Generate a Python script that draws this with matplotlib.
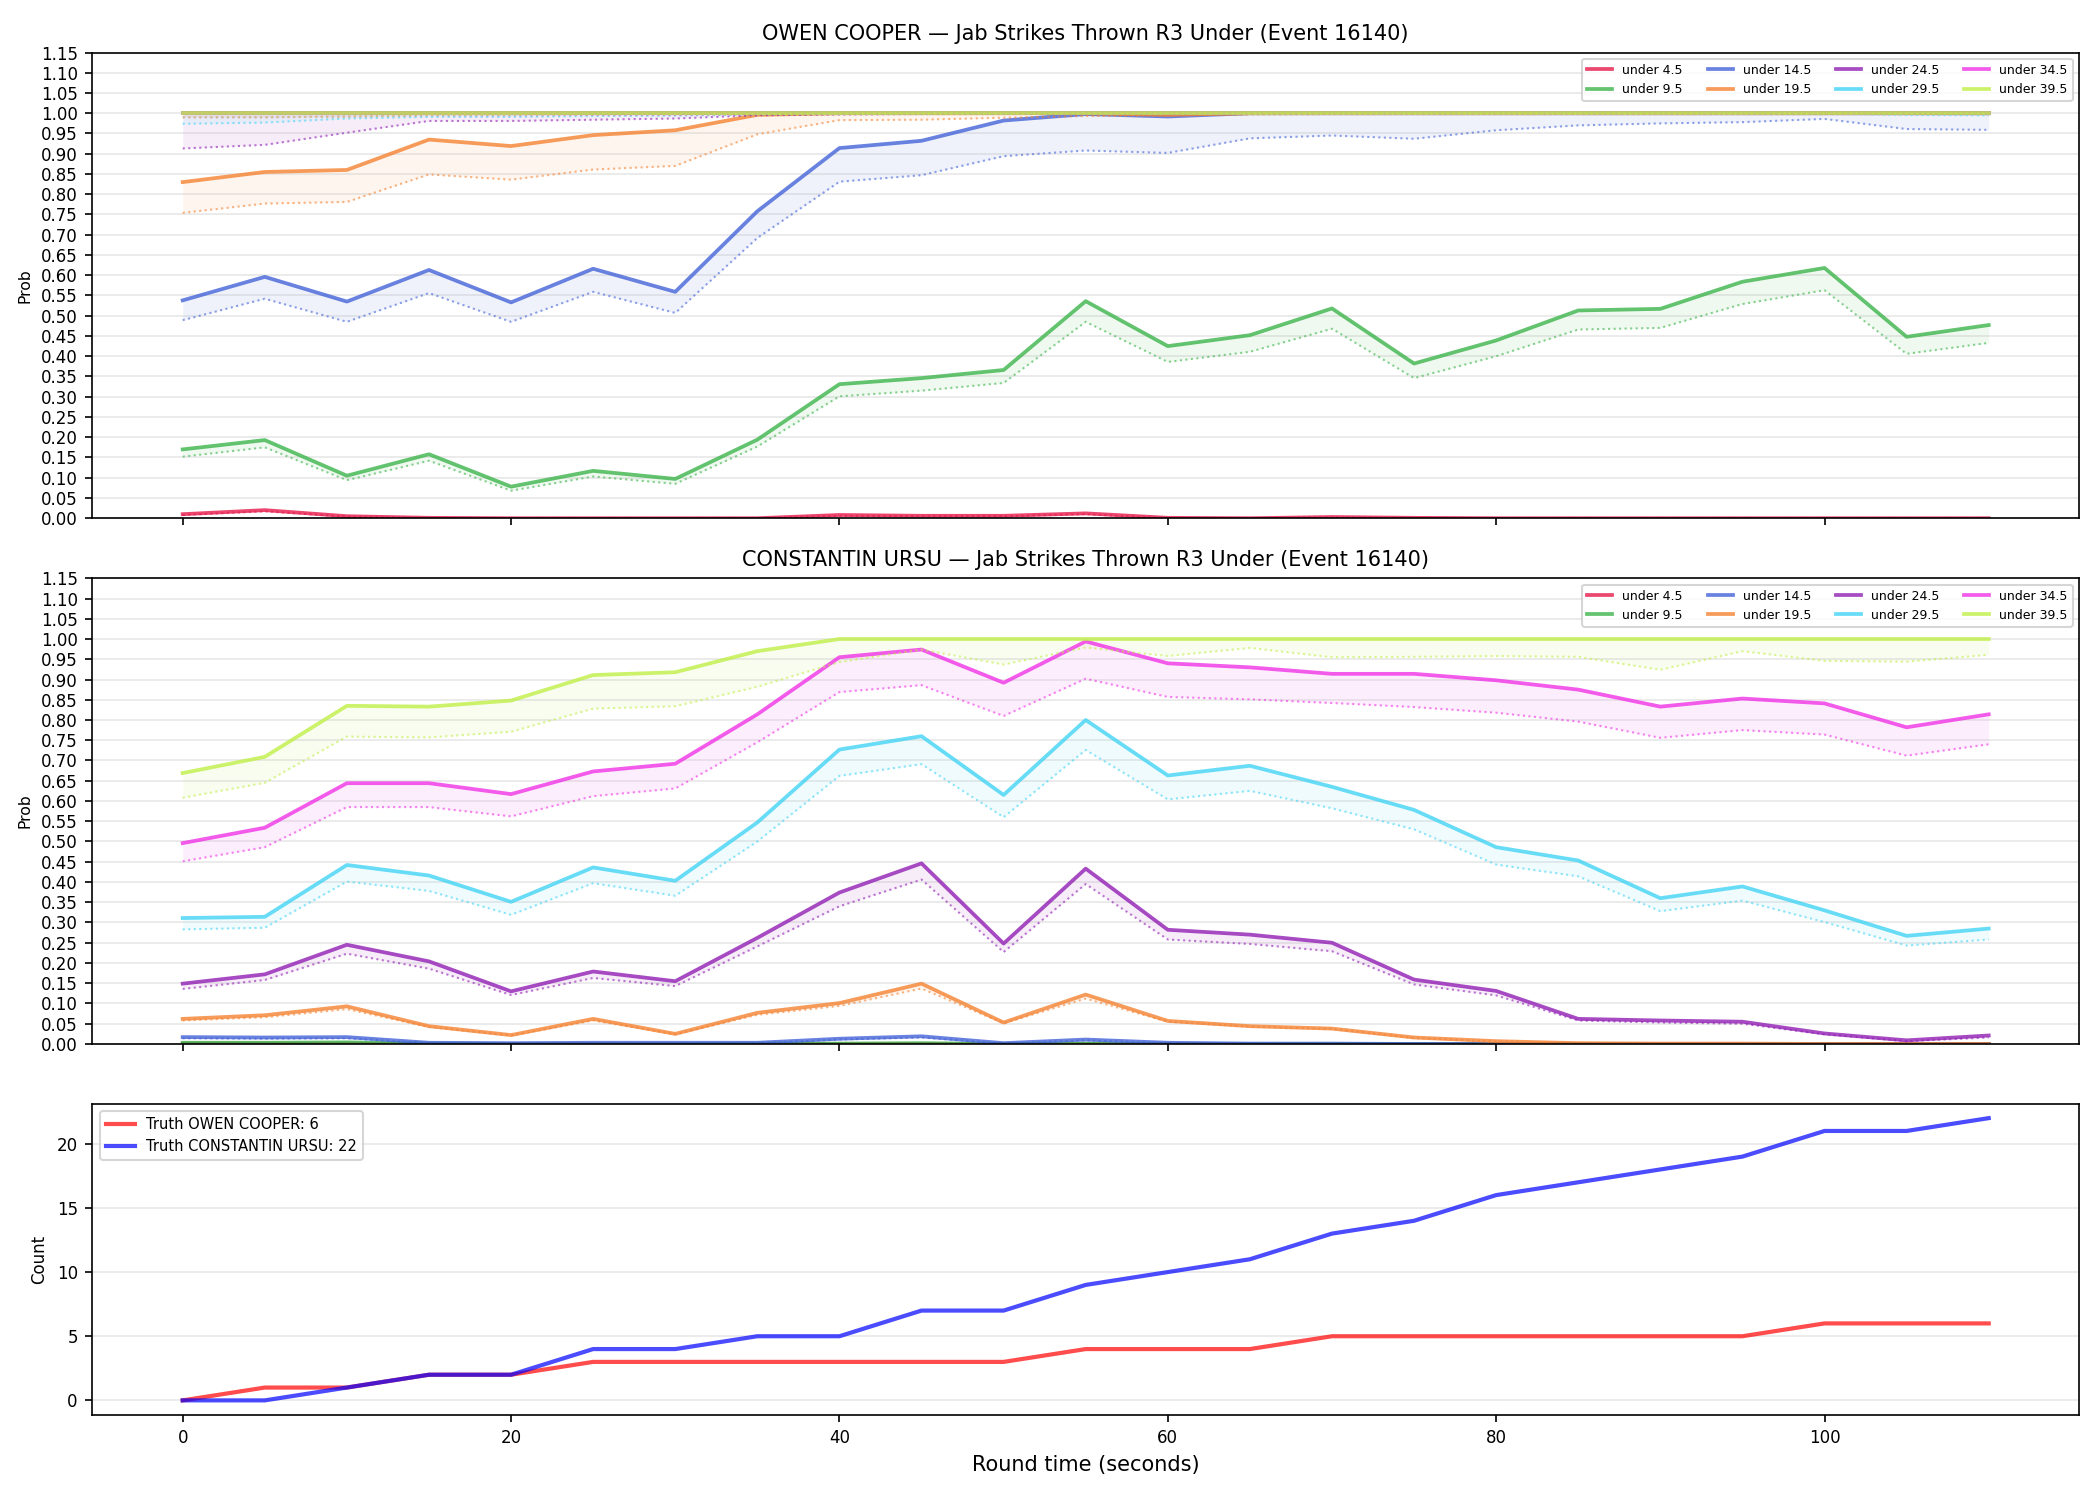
#!/usr/bin/env python3

import matplotlib
matplotlib.use('Agg')
import matplotlib.pyplot as plt
import numpy as np

times = [0, 5, 10, 15, 20, 25, 30, 35, 40, 45, 50, 55,
         60, 65, 70, 75, 80, 85, 90, 95, 100, 105, 110]

lines = ['under 4.5', 'under 9.5', 'under 14.5', 'under 19.5',
         'under 24.5', 'under 29.5', 'under 34.5', 'under 39.5']
colors = ['#e6194b', '#3cb44b', '#4363d8', '#f58231',
          '#911eb4', '#42d4f4', '#f032e6', '#bfef45']

# OWEN COOPER: solid = prob, dotted = lower band
cooper_prob = [
    [0.010, 0.020, 0.005, 0.001, 0.000, 0.000, 0.000, 0.000, 0.008, 0.006, 0.006, 0.012,
     0.001, 0.000, 0.003, 0.001, 0.000, 0.000, 0.000, 0.000, 0.000, 0.000, 0.000],
    [0.170, 0.193, 0.105, 0.158, 0.078, 0.117, 0.097, 0.194, 0.331, 0.346, 0.366, 0.536,
     0.425, 0.452, 0.518, 0.382, 0.439, 0.513, 0.517, 0.584, 0.618, 0.448, 0.477],
    [0.538, 0.596, 0.535, 0.613, 0.533, 0.616, 0.559, 0.758, 0.914, 0.932, 0.982, 0.998,
     0.992, 1.000, 1.000, 1.000, 1.000, 1.000, 1.000, 1.000, 1.000, 1.000, 1.000],
    [0.830, 0.855, 0.860, 0.935, 0.919, 0.946, 0.958, 0.996, 1.000, 1.000, 1.000, 1.000,
     0.996, 1.000, 1.000, 1.000, 1.000, 1.000, 1.000, 1.000, 1.000, 1.000, 1.000],
    [1.000, 1.000, 1.000, 1.000, 1.000, 1.000, 1.000, 1.000, 1.000, 1.000, 1.000, 1.000,
     1.000, 1.000, 1.000, 1.000, 1.000, 1.000, 1.000, 1.000, 1.000, 1.000, 1.000],
    [1.000, 1.000, 1.000, 1.000, 1.000, 1.000, 1.000, 1.000, 1.000, 1.000, 1.000, 1.000,
     1.000, 1.000, 1.000, 1.000, 1.000, 1.000, 1.000, 1.000, 1.000, 1.000, 1.000],
    [1.000, 1.000, 1.000, 1.000, 1.000, 1.000, 1.000, 1.000, 1.000, 1.000, 1.000, 1.000,
     1.000, 1.000, 1.000, 1.000, 1.000, 1.000, 1.000, 1.000, 1.000, 1.000, 1.000],
    [1.000, 1.000, 1.000, 1.000, 1.000, 1.000, 1.000, 1.000, 1.000, 1.000, 1.000, 1.000,
     1.000, 1.000, 1.000, 1.000, 1.000, 1.000, 1.000, 1.000, 1.000, 1.000, 1.000],
]
cooper_low = [
    [0.008, 0.017, 0.004, 0.000, 0.000, 0.000, 0.000, 0.000, 0.006, 0.005, 0.005, 0.010,
     0.000, 0.000, 0.002, 0.000, 0.000, 0.000, 0.000, 0.000, 0.000, 0.000, 0.000],
    [0.152, 0.175, 0.094, 0.142, 0.068, 0.103, 0.085, 0.177, 0.301, 0.315, 0.334, 0.485,
     0.386, 0.411, 0.468, 0.346, 0.400, 0.466, 0.470, 0.529, 0.563, 0.406, 0.433],
    [0.489, 0.542, 0.485, 0.556, 0.485, 0.559, 0.507, 0.692, 0.831, 0.847, 0.894, 0.908,
     0.902, 0.938, 0.945, 0.937, 0.958, 0.970, 0.975, 0.978, 0.986, 0.961, 0.959],
    [0.754, 0.777, 0.781, 0.849, 0.836, 0.861, 0.870, 0.948, 0.983, 0.984, 0.989, 0.993,
     0.995, 0.997, 0.998, 0.998, 0.998, 0.998, 0.998, 0.998, 0.998, 0.998, 0.998],
    [0.913, 0.922, 0.952, 0.981, 0.981, 0.984, 0.987, 0.995, 0.997, 0.998, 0.998, 0.999,
     0.999, 0.999, 0.999, 0.999, 0.999, 0.999, 0.999, 0.999, 0.999, 0.999, 0.999],
    [0.974, 0.977, 0.987, 0.991, 0.991, 0.993, 0.994, 0.997, 0.998, 0.998, 0.999, 0.999,
     0.999, 0.999, 0.999, 0.999, 0.999, 0.999, 0.999, 0.999, 0.999, 0.996, 0.995],
    [0.990, 0.990, 0.992, 0.995, 0.995, 0.996, 0.996, 0.998, 0.999, 0.999, 0.999, 0.999,
     0.999, 0.999, 0.999, 0.999, 0.999, 0.999, 0.999, 0.999, 0.999, 0.999, 0.999],
    [0.990, 0.990, 0.992, 0.995, 0.996, 0.997, 0.997, 0.998, 0.999, 0.999, 0.999, 0.999,
     0.999, 0.999, 0.999, 0.999, 0.999, 0.999, 0.999, 0.999, 0.999, 0.999, 0.999],
]

# CONSTANTIN URSU
ursu_prob = [
    [0.001, 0.001, 0.001, 0.000, 0.000, 0.000, 0.000, 0.000, 0.000, 0.000, 0.000, 0.000,
     0.000, 0.000, 0.000, 0.000, 0.000, 0.000, 0.000, 0.000, 0.000, 0.000, 0.000],
    [0.003, 0.003, 0.004, 0.001, 0.000, 0.000, 0.000, 0.001, 0.001, 0.002, 0.000, 0.001,
     0.000, 0.000, 0.000, 0.000, 0.000, 0.000, 0.000, 0.000, 0.000, 0.000, 0.000],
    [0.017, 0.016, 0.017, 0.003, 0.002, 0.003, 0.003, 0.003, 0.013, 0.019, 0.002, 0.011,
     0.003, 0.001, 0.001, 0.000, 0.000, 0.000, 0.000, 0.000, 0.000, 0.000, 0.000],
    [0.062, 0.071, 0.093, 0.044, 0.022, 0.062, 0.025, 0.077, 0.101, 0.149, 0.053, 0.122,
     0.057, 0.044, 0.038, 0.016, 0.007, 0.002, 0.001, 0.001, 0.000, 0.000, 0.000],
    [0.149, 0.172, 0.245, 0.204, 0.130, 0.179, 0.155, 0.262, 0.374, 0.446, 0.248, 0.433,
     0.282, 0.270, 0.250, 0.159, 0.131, 0.062, 0.058, 0.055, 0.026, 0.009, 0.021],
    [0.311, 0.314, 0.442, 0.416, 0.351, 0.436, 0.403, 0.547, 0.727, 0.760, 0.615, 0.800,
     0.663, 0.687, 0.635, 0.578, 0.486, 0.453, 0.360, 0.389, 0.330, 0.267, 0.285],
    [0.496, 0.534, 0.644, 0.644, 0.617, 0.673, 0.692, 0.814, 0.955, 0.974, 0.892, 0.994,
     0.940, 0.930, 0.914, 0.914, 0.898, 0.875, 0.833, 0.853, 0.841, 0.782, 0.814],
    [0.669, 0.709, 0.835, 0.833, 0.848, 0.911, 0.918, 0.970, 1.000, 1.000, 1.000, 1.000,
     1.000, 1.000, 1.000, 1.000, 1.000, 1.000, 1.000, 1.000, 1.000, 1.000, 1.000],
]
ursu_low = [
    [0.000, 0.000, 0.000, 0.000, 0.000, 0.000, 0.000, 0.000, 0.000, 0.000, 0.000, 0.000,
     0.000, 0.000, 0.000, 0.000, 0.000, 0.000, 0.000, 0.000, 0.000, 0.000, 0.000],
    [0.002, 0.002, 0.003, 0.001, 0.000, 0.000, 0.000, 0.000, 0.001, 0.001, 0.000, 0.001,
     0.000, 0.000, 0.000, 0.000, 0.000, 0.000, 0.000, 0.000, 0.000, 0.000, 0.000],
    [0.014, 0.013, 0.014, 0.002, 0.001, 0.002, 0.002, 0.002, 0.011, 0.016, 0.001, 0.009,
     0.002, 0.001, 0.000, 0.000, 0.000, 0.000, 0.000, 0.000, 0.000, 0.000, 0.000],
    [0.058, 0.066, 0.086, 0.042, 0.021, 0.058, 0.024, 0.072, 0.094, 0.137, 0.051, 0.112,
     0.055, 0.043, 0.037, 0.015, 0.006, 0.002, 0.001, 0.001, 0.000, 0.000, 0.000],
    [0.136, 0.158, 0.223, 0.186, 0.121, 0.163, 0.143, 0.241, 0.340, 0.406, 0.227, 0.395,
     0.258, 0.247, 0.229, 0.147, 0.120, 0.058, 0.053, 0.050, 0.024, 0.007, 0.016],
    [0.283, 0.287, 0.401, 0.378, 0.319, 0.397, 0.366, 0.500, 0.662, 0.691, 0.560, 0.726,
     0.604, 0.625, 0.582, 0.530, 0.443, 0.414, 0.328, 0.354, 0.301, 0.243, 0.258],
    [0.451, 0.486, 0.585, 0.585, 0.562, 0.612, 0.631, 0.745, 0.869, 0.886, 0.810, 0.902,
     0.857, 0.851, 0.842, 0.832, 0.818, 0.796, 0.756, 0.775, 0.764, 0.712, 0.740],
    [0.608, 0.645, 0.759, 0.757, 0.771, 0.828, 0.834, 0.882, 0.943, 0.974, 0.937, 0.979,
     0.958, 0.978, 0.955, 0.956, 0.958, 0.956, 0.924, 0.970, 0.946, 0.944, 0.961],
]

truth_cooper = [0, 1, 1, 2, 2, 3, 3, 3, 3, 3, 3, 4, 4, 4, 5, 5, 5, 5, 5, 5, 6, 6, 6]
truth_ursu = [0, 0, 1, 2, 2, 4, 4, 5, 5, 7, 7, 9, 10, 11, 13, 14, 16, 17, 18, 19, 21, 21, 22]

fighters = [('OWEN COOPER', cooper_prob, cooper_low),
            ('CONSTANTIN URSU', ursu_prob, ursu_low)]

fig, axes = plt.subplots(3, 1, figsize=(14, 10), dpi=150, sharex=True,
                         gridspec_kw={'height_ratios': [3, 3, 2]})
fig.subplots_adjust(left=0.044, right=0.99, top=0.965, bottom=0.057,
                    hspace=0.145)

x = np.array(times)
yt = np.arange(0, 1.1501, 0.05)
for ax, (name, probs, lows) in zip(axes[:2], fighters):
    for label, c, p, lo in zip(lines, colors, probs, lows):
        ax.plot(x, p, color=c, linewidth=1.8, alpha=0.8, label=label)
        ax.plot(x, lo, color=c, linewidth=1.0, linestyle=':', alpha=0.6)
        ax.fill_between(x, lo, p, color=c, alpha=0.08, linewidth=0)
    ax.set_title('{} \u2014 Jab Strikes Thrown R3 Under (Event 16140)'.format(name),
                 fontsize=10)
    ax.set_ylim(0, 1.15)
    ax.set_yticks(yt)
    ax.set_yticklabels(['{:.2f}'.format(v) for v in yt])
    ax.set_ylabel('Prob', fontsize=7.5)
    ax.tick_params(labelsize=8)
    ax.grid(axis='y', alpha=0.3)
    ax.legend(loc='upper right', ncol=4, fontsize=6)

ax = axes[2]
ax.plot(x, truth_cooper, color='red', alpha=0.7, linewidth=2,
        label='Truth OWEN COOPER: {}'.format(truth_cooper[-1]))
ax.plot(x, truth_ursu, color='blue', alpha=0.7, linewidth=2,
        label='Truth CONSTANTIN URSU: {}'.format(truth_ursu[-1]))
ax.set_ylabel('Count', fontsize=8)
ax.set_xlabel('Round time (seconds)', fontsize=10)
ax.tick_params(labelsize=8)
ax.grid(axis='y', alpha=0.3)
ax.legend(loc='upper left', fontsize=7)

plt.savefig('out.png', dpi=150)
